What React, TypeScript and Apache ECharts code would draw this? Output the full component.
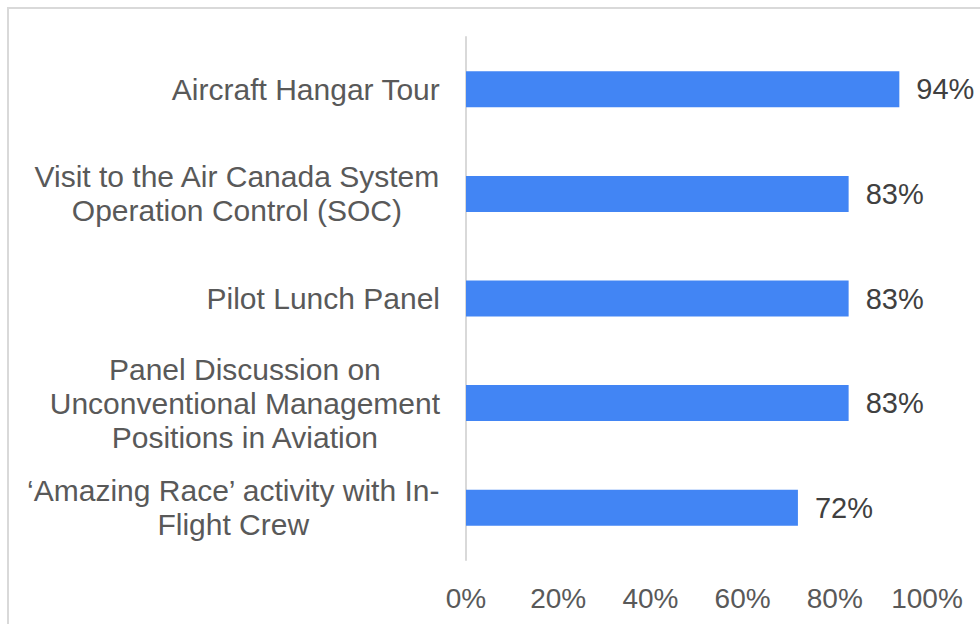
import React, { useEffect, useRef } from "react";
import * as echarts from "echarts";

const categories = [
  "Aircraft Hangar Tour",
  "Visit to the Air Canada System\nOperation Control (SOC)",
  "Pilot Lunch Panel",
  "Panel Discussion on\nUnconventional Management\nPositions in Aviation",
  "‘Amazing Race’ activity with In-\nFlight Crew",
];
const values = [94, 83, 83, 83, 72];
const xTicks = [0, 20, 40, 60, 80, 100];

const FONT = "'Liberation Sans', Arial, sans-serif";

export default function App() {
  const ref = useRef<HTMLDivElement>(null);
  useEffect(() => {
    if (!ref.current) return;
    const chart = echarts.init(ref.current, undefined, { renderer: "svg" });
    chart.setOption({
      animation: false,
      backgroundColor: "#ffffff",
      grid: { left: 466, right: 53, top: 37, bottom: 64, containLabel: false },
      xAxis: {
        type: "value",
        min: xTicks[0],
        max: xTicks[xTicks.length - 1],
        interval: 20,
        axisLine: { show: false },
        axisTick: { show: false },
        splitLine: { show: false },
        axisLabel: {
          formatter: "{value}%",
          color: "#595959",
          fontSize: 28,
          fontFamily: FONT,
          margin: 24,
        },
      },
      yAxis: {
        type: "category",
        inverse: true,
        data: categories,
        axisLine: { show: true, lineStyle: { color: "#d9d9d9", width: 2 } },
        axisTick: { show: false },
        axisLabel: {
          margin: 26,
          align: "right",
          formatter: (v: string) =>
            v
              .split("\n")
              .map((l) => `{c|${l}}`)
              .join("\n"),
          rich: {
            c: {
              align: "center",
              color: "#595959",
              fontSize: 30,
              fontFamily: FONT,
              lineHeight: 34,
            },
          },
        },
      },
      series: [
        {
          type: "bar",
          data: values,
          barWidth: 36,
          itemStyle: { color: "#4285F4" },
          label: {
            show: true,
            position: "right",
            distance: 17,
            formatter: "{c}%",
            color: "#404040",
            fontSize: 29,
            fontFamily: FONT,
          },
        },
      ],
      graphic: [
        {
          type: "rect",
          shape: { x: 8, y: 8, width: 1200, height: 900 },
          style: { fill: "none", stroke: "#d9d9d9", lineWidth: 2 },
          silent: true,
        },
      ],
    });
    return () => chart.dispose();
  }, []);
  return (
    <div
      ref={ref}
      style={{ position: "fixed", left: 0, top: 0, width: 980, height: 624 }}
    />
  );
}
